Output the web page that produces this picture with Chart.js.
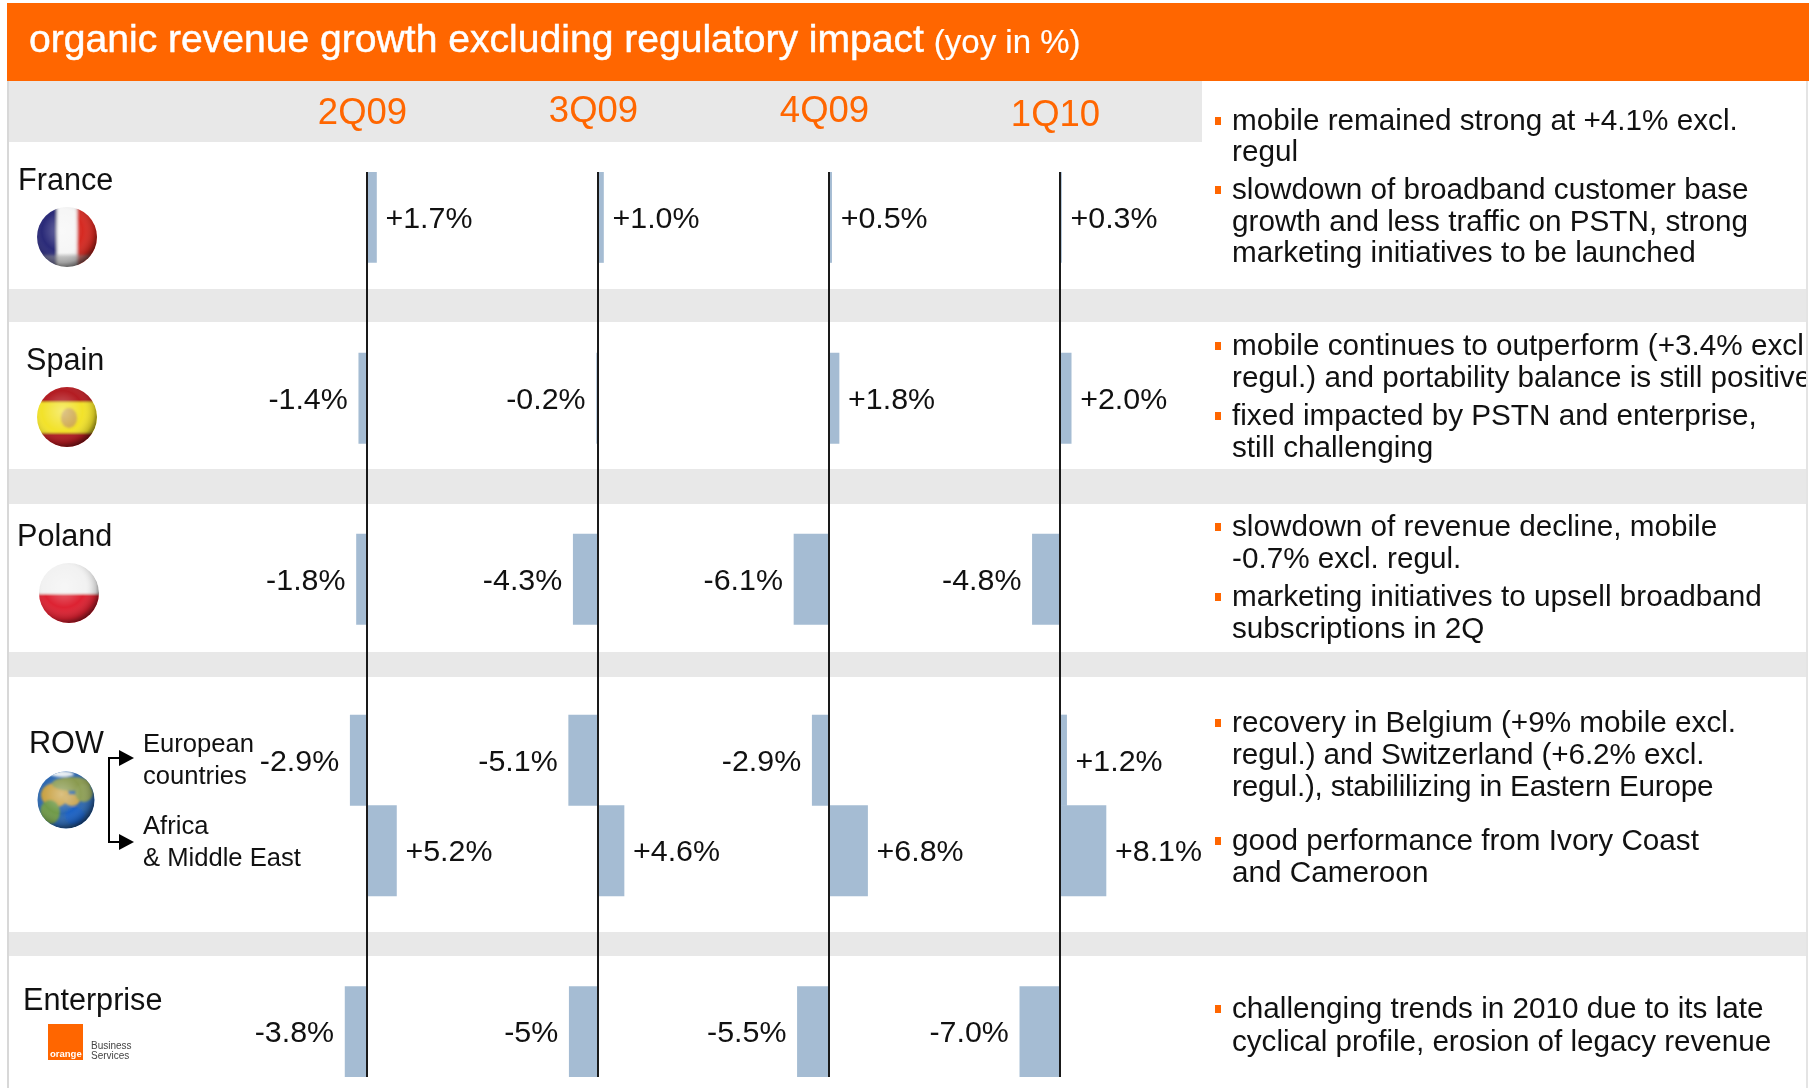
<!DOCTYPE html>
<html>
<head>
<meta charset="utf-8">
<title>organic revenue growth excluding regulatory impact</title>
<script src="https://cdn.jsdelivr.net/npm/chart.js@4"></script>
<style>
html,body{margin:0;padding:0;background:#fff;}
#page{position:relative;width:1809px;height:1088px;overflow:hidden;font-family:"Liberation Sans",Arial,sans-serif;color:#111;}
.bg{position:absolute;background:#e8e8e8;}
canvas{position:absolute;left:0;top:0;}
.t{position:absolute;white-space:nowrap;line-height:36px;height:36px;}
.b{font-size:29.7px;left:1232px;}
.r{font-size:30.6px;}
.s{font-size:25.6px;left:143px;}
.sq{position:absolute;left:1215px;width:6px;height:8px;background:#ff6600;}
svg{position:absolute;overflow:visible;}
</style>
</head>
<body>
<div id="page">
  <!-- page frame and grey bands -->
  <div class="bg" style="left:7px;top:3px;width:2px;height:1085px;background:#d8d8d8"></div>
  <div class="bg" style="left:1806px;top:3px;width:2px;height:1085px;background:#e4e4e4"></div>
  <div class="bg" style="left:9px;top:81px;width:1193px;height:61px"></div>
  <div class="bg" style="left:9px;top:289px;width:1797px;height:33px"></div>
  <div class="bg" style="left:9px;top:469px;width:1797px;height:35px"></div>
  <div class="bg" style="left:9px;top:652px;width:1797px;height:25px"></div>
  <div class="bg" style="left:9px;top:932px;width:1797px;height:24px"></div>
  <div class="bg" style="left:7px;top:3px;width:1802px;height:78px;background:#ff6600"></div>

  <canvas id="chart" width="1809" height="1088"></canvas>

  <div class="t" style="left:29px;top:18px;height:42px;line-height:42px;color:#fff;font-size:39.1px;-webkit-text-stroke:0.5px #fff">organic revenue growth excluding regulatory impact <span style="font-size:33px;margin-left:-1px;-webkit-text-stroke:0.2px #fff;position:relative;top:1px">(yoy in %)</span></div>

  <!-- row labels -->
  <div class="t r" style="left:18px;top:161px">France</div>
  <div class="t r" style="left:26px;top:341px">Spain</div>
  <div class="t r" style="left:17px;top:517px">Poland</div>
  <div class="t r" style="left:29px;top:724px">ROW</div>
  <div class="t r" style="left:23px;top:981px">Enterprise</div>
  <div class="t s" style="top:725px">European</div>
  <div class="t s" style="top:757px">countries</div>
  <div class="t s" style="top:807px">Africa</div>
  <div class="t s" style="top:839px">&amp; Middle East</div>

  <!-- bracket -->
  <svg style="left:0;top:0" width="200" height="1000">
    <path d="M120 758H109V842H120" fill="none" stroke="#000" stroke-width="2"/>
    <path d="M119 750L134 758L119 766Z M119 834L134 842L119 850Z" fill="#000"/>
  </svg>

  <!-- flags -->
  <svg style="left:0;top:0" width="200" height="1088">
    <defs>
      <filter id="soft" x="-20%" y="-20%" width="140%" height="140%"><feGaussianBlur stdDeviation="1.6"/></filter>
      <filter id="soft2" x="-20%" y="-20%" width="140%" height="140%"><feGaussianBlur stdDeviation="0.9"/></filter>
      <radialGradient id="shade" cx="42%" cy="40%" r="62%">
        <stop offset="0" stop-color="#fff" stop-opacity=".35"/>
        <stop offset=".55" stop-color="#fff" stop-opacity="0"/>
        <stop offset=".85" stop-color="#000" stop-opacity=".18"/>
        <stop offset="1" stop-color="#000" stop-opacity=".55"/>
      </radialGradient>
      <clipPath id="cf"><circle cx="67" cy="237" r="30"/></clipPath>
      <clipPath id="ce"><circle cx="67" cy="417" r="30"/></clipPath>
      <clipPath id="cp"><circle cx="69" cy="593" r="30"/></clipPath>
      <clipPath id="cg"><circle cx="66" cy="800" r="28.5"/></clipPath>
    </defs>
    <g clip-path="url(#cf)">
      <g filter="url(#soft)">
        <rect x="35" y="205" width="22" height="64" fill="#2a2a78"/>
        <rect x="57" y="205" width="20" height="64" fill="#f6f6f6"/>
        <rect x="77" y="205" width="24" height="64" fill="#d62b22"/>
      </g>
      <rect x="35" y="255" width="66" height="14" fill="#9a9a9a" opacity=".55" filter="url(#soft)"/>
      <circle cx="67" cy="237" r="30" fill="url(#shade)"/>
    </g>
    <g clip-path="url(#ce)">
      <g filter="url(#soft2)">
        <rect x="35" y="385" width="66" height="64" fill="#b31e22"/>
        <rect x="35" y="402" width="66" height="31" fill="#f2e22c"/>
      </g>
      <ellipse cx="69" cy="418" rx="8" ry="10" fill="#c2945a" opacity=".75" filter="url(#soft2)"/>
      <circle cx="67" cy="417" r="30" fill="url(#shade)"/>
    </g>
    <g clip-path="url(#cp)">
      <g filter="url(#soft2)">
        <rect x="37" y="561" width="66" height="33" fill="#f2f2f2"/>
        <rect x="37" y="594" width="66" height="32" fill="#dd2030"/>
      </g>
      <circle cx="69" cy="593" r="30" fill="url(#shade)"/>
    </g>
    <g clip-path="url(#cg)">
      <rect x="37" y="771" width="58" height="58" fill="#2d68b0"/>
      <g filter="url(#soft2)">
        <ellipse cx="55" cy="795" rx="14" ry="12" fill="#c8a040"/>
        <ellipse cx="50" cy="812" rx="10" ry="12" fill="#6f9a4a"/>
        <ellipse cx="72" cy="784" rx="20" ry="7" fill="#8a9a50"/>
        <ellipse cx="72" cy="800" rx="8" ry="6" fill="#c9a552"/>
        <ellipse cx="84" cy="793" rx="9" ry="9" fill="#8fa058"/>
        <ellipse cx="62" cy="774" rx="12" ry="3" fill="#e8eef2"/>
        <ellipse cx="75" cy="816" rx="10" ry="9" fill="#1f62c4"/>
      </g>
      <circle cx="66" cy="800" r="28.5" fill="url(#shade)"/>
    </g>
  </svg>

  <!-- Orange Business Services logo -->
  <div style="position:absolute;left:48px;top:1024px;width:35px;height:36px;background:#ff6600"></div>
  <div class="t" style="left:50px;top:1048px;height:12px;line-height:12px;font-size:9.5px;font-weight:bold;color:#fff">orange</div>
  <div class="t" style="left:91px;top:1040px;height:12px;line-height:12px;font-size:10px;color:#444">Business</div>
  <div class="t" style="left:91px;top:1050px;height:12px;line-height:12px;font-size:10px;color:#444">Services</div>

  <!-- comments -->
  <div style="position:absolute;left:0;top:0;width:1806px;height:1088px;overflow:hidden">
    <div class="sq" style="top:117px"></div>
    <div class="t b" style="top:102px">mobile remained strong at +4.1% excl.</div>
    <div class="t b" style="top:133px">regul</div>
    <div class="sq" style="top:186px"></div>
    <div class="t b" style="top:171px">slowdown of broadband customer base</div>
    <div class="t b" style="top:203px">growth and less traffic on PSTN, strong</div>
    <div class="t b" style="top:234px">marketing initiatives to be launched</div>

    <div class="sq" style="top:342px"></div>
    <div class="t b" style="top:327px">mobile continues to outperform (+3.4% excl</div>
    <div class="t b" style="top:359px">regul.) and portability balance is still positive</div>
    <div class="sq" style="top:412px"></div>
    <div class="t b" style="top:397px">fixed impacted by PSTN and enterprise,</div>
    <div class="t b" style="top:429px">still challenging</div>

    <div class="sq" style="top:523px"></div>
    <div class="t b" style="top:508px">slowdown of revenue decline, mobile</div>
    <div class="t b" style="top:540px">-0.7% excl. regul.</div>
    <div class="sq" style="top:593px"></div>
    <div class="t b" style="top:578px">marketing initiatives to upsell broadband</div>
    <div class="t b" style="top:610px">subscriptions in 2Q</div>

    <div class="sq" style="top:719px"></div>
    <div class="t b" style="top:704px">recovery in Belgium (+9% mobile excl.</div>
    <div class="t b" style="top:736px;letter-spacing:-0.1px">regul.) and Switzerland (+6.2% excl.</div>
    <div class="t b" style="top:768px;letter-spacing:-0.22px">regul.), stabililizing in Eastern Europe</div>
    <div class="sq" style="top:837px"></div>
    <div class="t b" style="top:822px">good performance from Ivory Coast</div>
    <div class="t b" style="top:854px">and Cameroon</div>

    <div class="sq" style="top:1005px"></div>
    <div class="t b" style="top:990px">challenging trends in 2010 due to its late</div>
    <div class="t b" style="top:1023px;letter-spacing:-0.05px">cyclical profile, erosion of legacy revenue</div>
  </div>
</div>

<script>
// Data. Blank categories are the spacer rows between blocks.
const categories = ['France', '', 'Spain', '', 'Poland', '', 'ROW European countries', 'ROW Africa & Middle East', '', 'Enterprise'];
const quarters   = ['2Q09', '3Q09', '4Q09', '1Q10'];
const values2Q09 = [1.7, null, -1.4, null, -1.8, null, -2.9, 5.2, null, -3.8];
const values3Q09 = [1.0, null, -0.2, null, -4.3, null, -5.1, 4.6, null, -5.0];
const values4Q09 = [0.5, null,  1.8, null, -6.1, null, -2.9, 6.8, null, -5.5];
const values1Q10 = [0.3, null,  2.0, null, -4.8, null,  1.2, 8.1, null, -7.0];
const labels2Q09 = ['+1.7%', '', '-1.4%', '', '-1.8%', '', '-2.9%', '+5.2%', '', '-3.8%'];
const labels3Q09 = ['+1.0%', '', '-0.2%', '', '-4.3%', '', '-5.1%', '+4.6%', '', '-5%'];
const labels4Q09 = ['+0.5%', '', '+1.8%', '', '-6.1%', '', '-2.9%', '+6.8%', '', '-5.5%'];
const labels1Q10 = ['+0.3%', '', '+2.0%', '', '-4.8%', '', '+1.2%', '+8.1%', '', '-7.0%'];

const allValues = [values2Q09, values3Q09, values4Q09, values1Q10];
const allLabels = [labels2Q09, labels3Q09, labels4Q09, labels1Q10];

const ORANGE = '#ff6600', BAR = '#a5bcd3';
const titlePadTop = [4, 2, 2, 6];   // the quarter headings sit at slightly different heights

// Chart.js lays out stacked top axes last-registered-first, so register them in reverse.
const xScales = {};
quarters.slice().reverse().forEach(q => {
  const i = quarters.indexOf(q);
  xScales['x' + i] = {
    type: 'linear',
    position: 'top',
    stack: 'quarters',
    stackWeight: 1,
    min: -21,
    max: 19.5,
    afterFit(scale) { scale.height = 84; },
    ticks: { display: false, stepSize: 1 },
    border: { display: false },
    grid: {
      drawTicks: false,
      z: 1,
      lineWidth: 2,
      color: ctx => (ctx.tick && ctx.tick.value === 0) ? '#1a1a1a' : 'rgba(0,0,0,0)'
    },
    title: {
      display: true,
      text: q,
      color: ORANGE,
      font: { family: '"Liberation Sans"', size: 36.5 },
      padding: { top: titlePadTop[i], bottom: 40 - titlePadTop[i] }
    }
  };
});

const valueLabels = {
  id: 'valueLabels',
  afterDatasetsDraw(chart) {
    const ctx = chart.ctx;
    ctx.save();
    ctx.font = '30.4px "Liberation Sans"';
    ctx.fillStyle = '#111';
    ctx.textBaseline = 'middle';
    chart.data.datasets.forEach((ds, d) => {
      chart.getDatasetMeta(d).data.forEach((el, i) => {
        const v = ds.data[i];
        if (v === null) return;
        ctx.textAlign = v >= 0 ? 'left' : 'right';
        ctx.fillText(allLabels[d][i], el.x + (v >= 0 ? 9 : -11), el.y + 2);
      });
    });
    ctx.restore();
  }
};

new Chart(document.getElementById('chart'), {
  type: 'bar',
  data: {
    labels: categories,
    datasets: quarters.map((q, i) => ({
      label: q,
      data: allValues[i],
      xAxisID: 'x' + i,
      yAxisID: 'y',
      backgroundColor: BAR,
      borderWidth: 0,
      barPercentage: 1,
      categoryPercentage: 1,
      grouped: false
    }))
  },
  options: {
    indexAxis: 'y',
    responsive: false,
    animation: false,
    layout: { padding: { left: 247, right: 638, top: 88, bottom: 11 } },
    plugins: { legend: { display: false }, title: { display: false }, tooltip: { enabled: false } },
    scales: Object.assign({
      y: { type: 'category', display: false, grid: { display: false } }
    }, xScales)
  },
  plugins: [valueLabels]
});
</script>
</body>
</html>
